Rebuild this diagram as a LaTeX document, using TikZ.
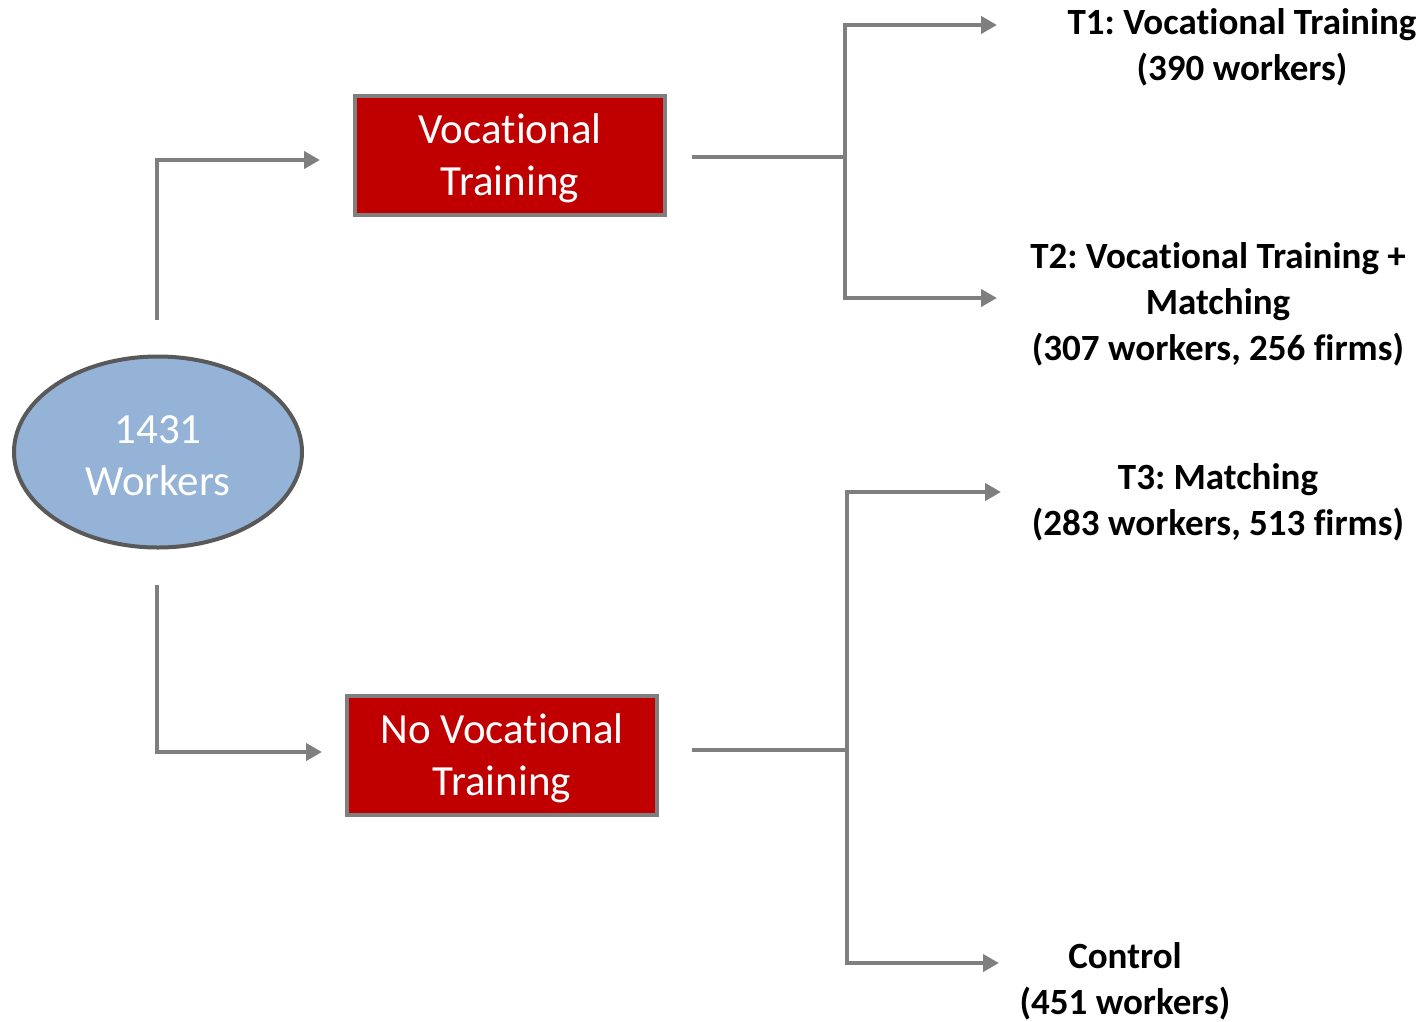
\documentclass[tikz,border=0pt]{standalone}
\usepackage{fontspec}
\setmainfont[Ligatures=NoCommon]{Carlito}
\usetikzlibrary{arrows.meta,shapes.geometric}
\definecolor{linegray}{HTML}{7F7F7F}
\definecolor{boxred}{HTML}{C00000}
\definecolor{ellblue}{HTML}{95B3D7}
\definecolor{ellborder}{HTML}{595959}
\frenchspacing
\tikzset{
  conn/.style={draw=linegray,line width=4pt},
  arr/.style={conn,-{Triangle[length=16pt,width=17pt]}},
  redbox/.style={draw=linegray,line width=4pt,fill=boxred,text=white,minimum width=310pt,minimum height=119pt,inner sep=0pt,align=center,font=\fontsize{43}{52}\selectfont},
  lbl/.style={align=center,inner sep=0pt,font=\fontsize{37}{46}\selectfont\bfseries},
}
\begin{document}
\begin{tikzpicture}[x=1pt,y=-1pt]
\useasboundingbox (0,0) rectangle (1425,1021);
\node[ellipse,draw=ellborder,line width=4pt,fill=ellblue,text=white,minimum width=288pt,minimum height=191pt,inner sep=0pt,align=center,font=\fontsize{43}{52}\selectfont] (w) at (158,452) {};
\node[text=white,align=center,inner sep=0pt,font=\fontsize{43}{52}\selectfont] (wt) at (158,456) {1431\\Workers};
\node[redbox] (vt) at (510,155) {};
\node[text=white,align=center,inner sep=0pt,font=\fontsize{43}{52}\selectfont] (vtt) at (510,158) {Vocational\\Training};
\node[redbox] (nvt) at (502,755) {};
\node[text=white,align=center,inner sep=0pt,font=\fontsize{43}{52}\selectfont] (nvtt) at (502,758) {No Vocational\\Training};
\node[lbl] (t1) at (1242,47) {T1: Vocational Training\\(390 workers)};
\node[lbl] (t2) at (1218,304) {T2: Vocational Training +\\Matching\\(307 workers, 256 firms)};
\node[lbl] (t3) at (1218,502) {T3: Matching\\(283 workers, 513 firms)};
\node[lbl] (c) at (1125,981) {Control\\(451 workers)};
% coordinates
\coordinate (s1) at (157,320);
\coordinate (e1) at (320,160);
\coordinate (s2) at (157,585);
\coordinate (e2) at (322,752);
\coordinate (b1) at (692,157);
\coordinate (j1) at (845,157);
\coordinate (a1) at (997,25);
\coordinate (a2) at (997,298);
\coordinate (b2) at (692,750);
\coordinate (j2) at (847,750);
\coordinate (a3) at (1001,492);
\coordinate (a4) at (999,963);
\draw[arr] (s1) |- (e1);
\draw[arr] (s2) |- (e2);
\draw[conn] (b1) -- (j1);
\draw[arr] (j1) |- (a1);
\draw[arr] (j1) |- (a2);
\draw[conn] (b2) -- (j2);
\draw[arr] (j2) |- (a3);
\draw[arr] (j2) |- (a4);
\end{tikzpicture}
\end{document}
